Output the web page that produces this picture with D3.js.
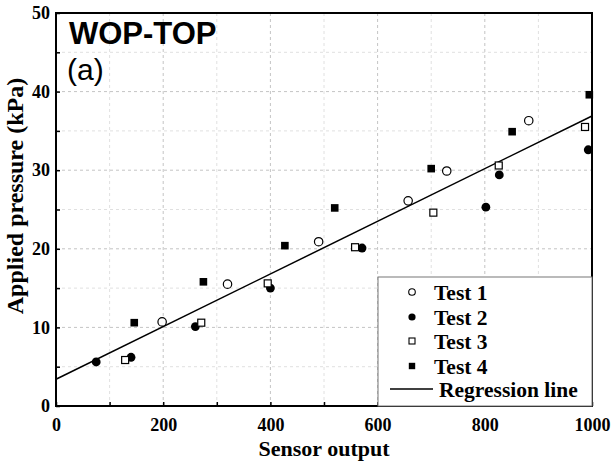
<!DOCTYPE html>
<html>
<head>
<meta charset="utf-8">
<script src="https://cdn.jsdelivr.net/npm/d3@7"></script>
<style>
  body { margin: 0; background: #fff; }
  svg { display: block; }
</style>
</head>
<body>
<div id="chart"></div>
<script>
// values
const test1X = [198, 320, 490, 657, 729, 882];
const test1Y = [10.7, 15.5, 20.9, 26.1, 29.9, 36.3];
const test2X = [75, 140, 260, 400, 571, 802, 827, 993];
const test2Y = [5.6, 6.2, 10.1, 15.0, 20.1, 25.3, 29.4, 32.6];
const test3X = [129, 271, 395, 558, 704, 826, 987];
const test3Y = [5.85, 10.6, 15.6, 20.2, 24.6, 30.6, 35.5];
const test4X = [146, 275, 427, 520, 700, 851, 995];
const test4Y = [10.6, 15.8, 20.4, 25.2, 30.2, 34.9, 39.6];
const regIntercept = 3.4;
const regSlope = 0.0335;
const xTicks = [0, 200, 400, 600, 800, 1000];
const yTicks = [0, 10, 20, 30, 40, 50];
const legendNames = ['Test 1', 'Test 2', 'Test 3', 'Test 4', 'Regression line'];

const width = 614;
const height = 465;
const margin = { top: 13, right: 22, bottom: 59, left: 56 };
const iw = width - margin.left - margin.right;
const ih = height - margin.top - margin.bottom;

const serif = "'Liberation Serif', 'Times New Roman', serif";
const sans = "'Liberation Sans', Arial, sans-serif";

const svg = d3.select('#chart').append('svg')
  .attr('width', width)
  .attr('height', height);

const g = svg.append('g')
  .attr('transform', `translate(${margin.left},${margin.top})`);

const x = d3.scaleLinear().domain([0, 1000]).range([0, iw]);
const y = d3.scaleLinear().domain([0, 50]).range([ih, 0]);

// grid
const xGrid = d3.range(100, 1000, 100);
const yGrid = d3.range(5, 50, 5);
g.selectAll('.gx').data(xGrid).enter().append('line')
  .attr('x1', d => x(d)).attr('x2', d => x(d))
  .attr('y1', 0).attr('y2', ih)
  .attr('stroke', d => d % 200 === 0 ? '#c4c4c4' : '#e0e0e0')
  .attr('stroke-width', 1)
  .attr('stroke-dasharray', '3,3');
g.selectAll('.gy').data(yGrid).enter().append('line')
  .attr('x1', 0).attr('x2', iw)
  .attr('y1', d => y(d)).attr('y2', d => y(d))
  .attr('stroke', d => d % 10 === 0 ? '#c4c4c4' : '#e0e0e0')
  .attr('stroke-width', 1)
  .attr('stroke-dasharray', '3,3');

// regression line
g.append('line')
  .attr('x1', x(0)).attr('y1', y(regIntercept))
  .attr('x2', x(1000)).attr('y2', y(regIntercept + regSlope * 1000))
  .attr('stroke', '#000')
  .attr('stroke-width', 1.5);

// axes (ticks drawn inward)
const xAxis = d3.axisBottom(x).tickValues(d3.range(0, 1001, 100))
  .tickSizeInner(-4).tickSizeOuter(0).tickFormat(d => xTicks.includes(d) ? d : '');
const yAxis = d3.axisLeft(y).tickValues(d3.range(0, 51, 5))
  .tickSizeInner(-4).tickSizeOuter(0).tickFormat(d => yTicks.includes(d) ? d : '');

const gx = g.append('g').attr('transform', `translate(0,${ih})`).call(xAxis);
const gy = g.append('g').call(yAxis);
[gx, gy].forEach(a => {
  a.select('.domain').remove();
  a.selectAll('.tick line').attr('stroke', '#000').attr('stroke-width', 1.5);
  a.selectAll('text')
    .attr('font-family', serif)
    .attr('font-size', '18px')
    .attr('font-weight', 'bold')
    .attr('fill', '#000');
});
gx.selectAll('text').attr('y', 8).attr('dy', '0.95em');
gy.selectAll('text').attr('x', -6);

// frame
g.append('rect')
  .attr('width', iw).attr('height', ih)
  .attr('fill', 'none')
  .attr('stroke', '#000')
  .attr('stroke-width', 2);

// points
function pts(xs, ys) { return xs.map((v, i) => [v, ys[i]]); }

g.selectAll('.t1').data(pts(test1X, test1Y)).enter().append('circle')
  .attr('cx', d => x(d[0])).attr('cy', d => y(d[1])).attr('r', 4.2)
  .attr('fill', '#fff').attr('stroke', '#000').attr('stroke-width', 1.2);
g.selectAll('.t2').data(pts(test2X, test2Y)).enter().append('circle')
  .attr('cx', d => x(d[0])).attr('cy', d => y(d[1])).attr('r', 4.4)
  .attr('fill', '#000');
g.selectAll('.t3').data(pts(test3X, test3Y)).enter().append('rect')
  .attr('x', d => x(d[0]) - 3.5).attr('y', d => y(d[1]) - 3.5)
  .attr('width', 7).attr('height', 7)
  .attr('fill', '#fff').attr('stroke', '#000').attr('stroke-width', 1.2);
g.selectAll('.t4').data(pts(test4X, test4Y)).enter().append('rect')
  .attr('x', d => x(d[0]) - 3.8).attr('y', d => y(d[1]) - 3.8)
  .attr('width', 7.6).attr('height', 7.6)
  .attr('fill', '#000');

// legend
const lg = svg.append('g').attr('transform', 'translate(378,277)');
lg.append('rect')
  .attr('width', 214).attr('height', 129)
  .attr('fill', '#fff')
  .attr('stroke', '#777')
  .attr('stroke-width', 1);
const rows = [15, 40, 64, 89, 112];
legendNames.forEach((name, i) => {
  const cy = rows[i];
  if (i === 0) lg.append('circle').attr('cx', 34).attr('cy', cy).attr('r', 3.3)
    .attr('fill', '#fff').attr('stroke', '#000').attr('stroke-width', 1.1);
  if (i === 1) lg.append('circle').attr('cx', 34).attr('cy', cy).attr('r', 3.6).attr('fill', '#000');
  if (i === 2) lg.append('rect').attr('x', 31).attr('y', cy - 3).attr('width', 6).attr('height', 6)
    .attr('fill', '#fff').attr('stroke', '#000').attr('stroke-width', 1.1);
  if (i === 3) lg.append('rect').attr('x', 30.8).attr('y', cy - 3.2).attr('width', 6.4).attr('height', 6.4).attr('fill', '#000');
  if (i === 4) lg.append('line').attr('x1', 12).attr('x2', 55).attr('y1', cy).attr('y2', cy)
    .attr('stroke', '#000').attr('stroke-width', 1.5);
  lg.append('text')
    .attr('x', i === 4 ? 61 : 56).attr('y', cy).attr('dy', '0.35em')
    .attr('font-family', serif).attr('font-size', '21.5px').attr('font-weight', 'bold')
    .text(name);
});

// panel labels
svg.append('text').attr('x', 69).attr('y', 44)
  .attr('font-family', sans).attr('font-size', '31px').attr('font-weight', 'bold')
  .text('WOP-TOP');
svg.append('text').attr('x', 67).attr('y', 80)
  .attr('font-family', sans).attr('font-size', '30px')
  .text('(a)');

// axis titles
svg.append('text')
  .attr('x', margin.left + iw / 2).attr('y', 456)
  .attr('text-anchor', 'middle')
  .attr('font-family', serif).attr('font-size', '22px').attr('font-weight', 'bold')
  .text('Sensor output');
svg.append('text')
  .attr('transform', 'translate(23,196) rotate(-90)')
  .attr('text-anchor', 'middle')
  .attr('font-family', serif).attr('font-size', '24px').attr('font-weight', 'bold')
  .text('Applied pressure (kPa)');
</script>
</body>
</html>
